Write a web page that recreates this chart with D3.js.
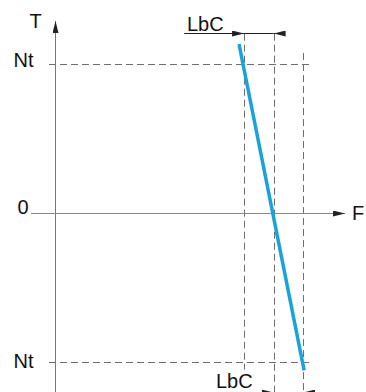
<!DOCTYPE html>
<html>
<head>
<meta charset="utf-8">
<script src="https://cdn.jsdelivr.net/npm/d3@7"></script>
<style>
  html, body { margin: 0; padding: 0; background: #fff; }
  svg { display: block; }
  .lbl { font-family: "Liberation Sans", Arial, sans-serif; font-size: 20px; fill: #111; }
</style>
</head>
<body>
<div id="chart"></div>
<script>
// frequency units (F) and torque units (T)
var fSync = 7.37;       // synchronous frequency, where the line crosses T = 0
var lbc = 1.0;          // slip compensation LbC
var nt = 1;             // nominal torque Nt

var tickLabelsT = [{ t: nt, text: 'Nt' }, { t: 0, text: '0' }, { t: -nt, text: 'Nt' }];

// the blue torque/frequency line
var lineF = [6.2, 8.4];
var lineT = [1.13, -1.06];

// dashed guides: vertical at F, from t0 to t1
var guideF = [fSync - lbc, fSync, fSync + lbc];
var guideTop = [1.2, 1.2, 1.07];
var guideBottom = [-1.055, -1.25, -1.25];
// horizontal guides at +/- Nt, from f0 to f1
var hGuideT = [nt, -nt];
var hGuideF0 = [-0.22, -0.22];
var hGuideF1 = [8.7, 8.6];

var w = 366, h = 392;
var x = d3.scaleLinear().domain([0, 10]).range([55.5, 351.5]);
var y = d3.scaleLinear().domain([-1, 1]).range([361.5, 63.5]);

var svg = d3.select('#chart').append('svg')
  .attr('width', w)
  .attr('height', h);

var defs = svg.append('defs');
defs.append('marker')
  .attr('id', 'arrow')
  .attr('viewBox', '0 0 12 6')
  .attr('refX', 12).attr('refY', 3)
  .attr('markerWidth', 12).attr('markerHeight', 6)
  .attr('markerUnits', 'userSpaceOnUse')
  .attr('orient', 'auto')
  .append('path')
  .attr('d', 'M0,0L12,3L0,6Z')
  .attr('fill', '#222');

// dashed guides
svg.selectAll('.vguide')
  .data(guideF)
  .enter().append('line')
  .attr('class', 'vguide')
  .attr('x1', function(d) { return Math.round(x(d)) + 0.5; })
  .attr('x2', function(d) { return Math.round(x(d)) + 0.5; })
  .attr('y1', function(d, i) { return y(guideTop[i]); })
  .attr('y2', function(d, i) { return y(guideBottom[i]); })
  .attr('stroke', '#6e6e6e')
  .attr('stroke-width', 1)
  .attr('stroke-dasharray', '7,4');

svg.selectAll('.hguide')
  .data(hGuideT)
  .enter().append('line')
  .attr('class', 'hguide')
  .attr('x1', function(d, i) { return x(hGuideF0[i]); })
  .attr('x2', function(d, i) { return x(hGuideF1[i]); })
  .attr('y1', function(d) { return Math.round(y(d)) + 0.5; })
  .attr('y2', function(d) { return Math.round(y(d)) + 0.5; })
  .attr('stroke', '#6e6e6e')
  .attr('stroke-width', 1)
  .attr('stroke-dasharray', '7,4');

// axes
svg.append('line')
  .attr('x1', x(0)).attr('x2', x(0))
  .attr('y1', h).attr('y2', y(1.285))
  .attr('stroke', '#777')
  .attr('stroke-width', 1)
  .attr('marker-end', 'url(#arrow)');

svg.append('line')
  .attr('x1', x(-0.83)).attr('x2', x(9.78))
  .attr('y1', Math.round(y(0)) + 0.5).attr('y2', Math.round(y(0)) + 0.5)
  .attr('stroke', '#888')
  .attr('stroke-width', 1.2)
  .attr('marker-end', 'url(#arrow)');

// torque line
var line = d3.line()
  .x(function(d) { return x(d[0]); })
  .y(function(d) { return y(d[1]); });
svg.append('path')
  .datum(d3.zip(lineF, lineT))
  .attr('d', line)
  .attr('fill', 'none')
  .attr('stroke', '#1ba2d8')
  .attr('stroke-width', 3.5);

// LbC dimension arrows
svg.append('line')
  .attr('x1', x(4.35)).attr('x2', x(fSync - lbc))
  .attr('y1', 33.5).attr('y2', 33.5)
  .attr('stroke', '#222').attr('stroke-width', 1)
  .attr('marker-end', 'url(#arrow)');
svg.append('line')
  .attr('x1', x(fSync - lbc)).attr('x2', x(fSync))
  .attr('y1', 33.5).attr('y2', 33.5)
  .attr('stroke', '#222').attr('stroke-width', 1);
svg.append('line')
  .attr('x1', x(fSync + 0.38)).attr('x2', x(fSync))
  .attr('y1', 33.5).attr('y2', 33.5)
  .attr('stroke', '#222').attr('stroke-width', 1)
  .attr('marker-end', 'url(#arrow)');

svg.append('line')
  .attr('x1', x(fSync - 0.38)).attr('x2', x(fSync))
  .attr('y1', 392.5).attr('y2', 392.5)
  .attr('stroke', '#222').attr('stroke-width', 1)
  .attr('marker-end', 'url(#arrow)');
svg.append('line')
  .attr('x1', x(fSync + lbc + 0.38)).attr('x2', x(fSync + lbc))
  .attr('y1', 392.5).attr('y2', 392.5)
  .attr('stroke', '#222').attr('stroke-width', 1)
  .attr('marker-end', 'url(#arrow)');

// labels
svg.selectAll('.tick-t')
  .data(tickLabelsT)
  .enter().append('text')
  .attr('class', 'lbl tick-t')
  .attr('x', function(d) { return d.text === '0' ? 28.5 : 33.5; })
  .attr('y', function(d, i) { return i === 0 ? 67 : (i === 1 ? 214 : 368); })
  .attr('text-anchor', 'end')
  .text(function(d) { return d.text; });

svg.append('text').attr('class', 'lbl')
  .attr('x', 35.5).attr('y', 28)
  .attr('text-anchor', 'middle')
  .text('T');
svg.append('text').attr('class', 'lbl')
  .attr('x', 352).attr('y', 219.5)
  .text('F');
svg.append('text').attr('class', 'lbl')
  .attr('x', 187).attr('y', 31)
  .text('LbC');
svg.append('text').attr('class', 'lbl')
  .attr('x', 216).attr('y', 388)
  .text('LbC');
</script>
</body>
</html>
